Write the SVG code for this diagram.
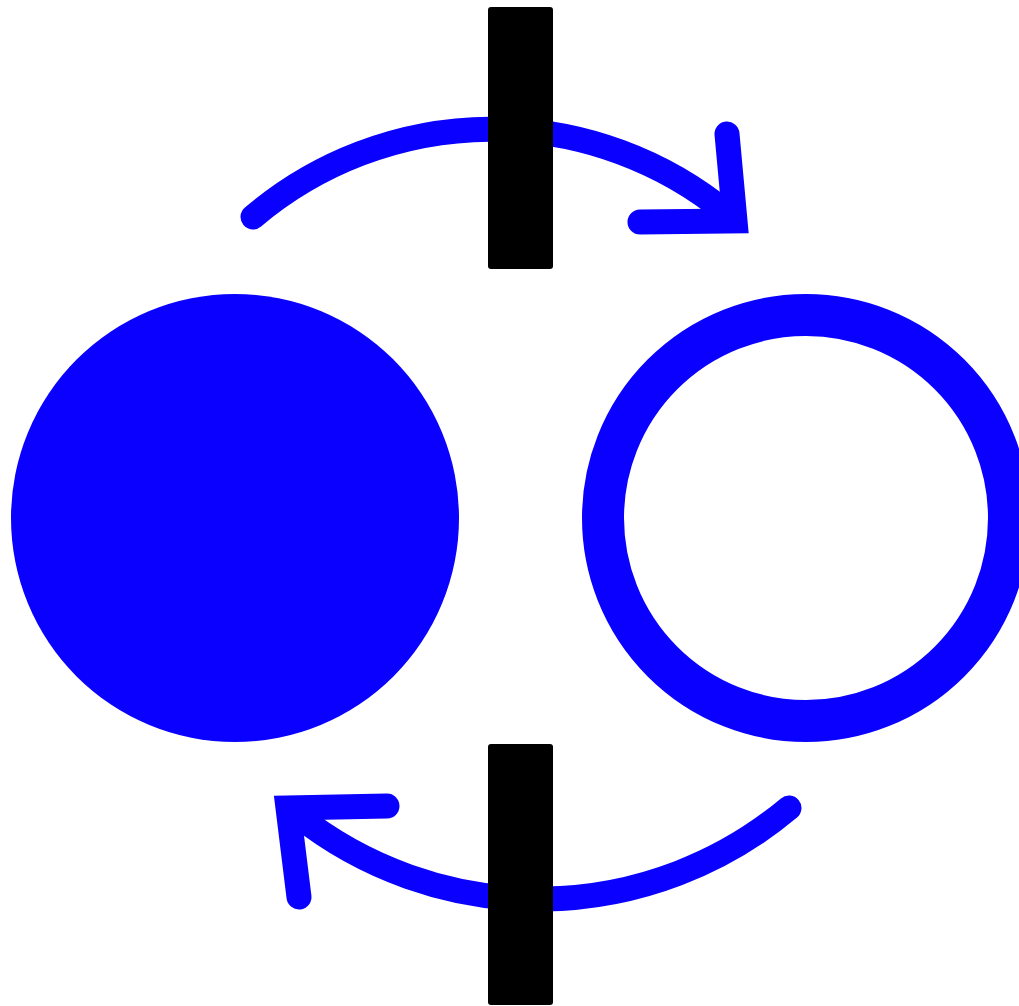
<svg xmlns="http://www.w3.org/2000/svg" width="1019" height="1006" viewBox="0 0 1019 1006">
<style>
.blue{fill:#0a00ff}
.ring{fill:none;stroke:#0a00ff;stroke-width:42}
.arc{fill:none;stroke:#0a00ff;stroke-width:25;stroke-linecap:round;stroke-linejoin:miter;stroke-miterlimit:10}
.bar{fill:#000000}
</style>
<rect width="1019" height="1006" fill="#ffffff"/>
<g id="filled-circle"><circle class="blue" cx="235" cy="518" r="224"/></g>
<g id="open-circle"><circle class="ring" cx="806" cy="518" r="203"/></g>
<g id="connectors">
<path class="arc" d="M253,217 A370,370 0 0 1 728,214"/>
<path class="arc" d="M727,134 L735,221 L640,222"/>
<path class="arc" d="M789,808 A389,389 0 0 1 296,814"/>
<path class="arc" d="M387,806 L288,808 L299,897"/>
</g>
<g id="bar-top"><rect class="bar" x="488" y="7" width="65" height="262" rx="3"/></g>
<g id="bar-bottom"><rect class="bar" x="488" y="744" width="65" height="261" rx="3"/></g>
</svg>
